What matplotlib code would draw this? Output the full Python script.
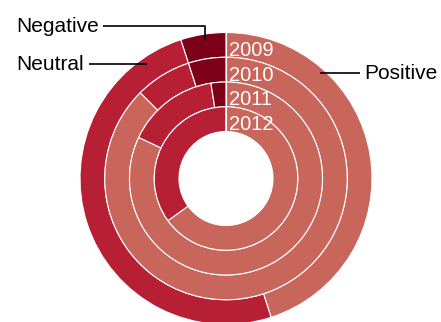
import matplotlib
matplotlib.use("Agg")
import matplotlib.pyplot as plt

# Share of sentiment per year (percent), ring order outer -> inner
years = ["2009", "2010", "2011", "2012"]
categories = ["Positive", "Neutral", "Negative"]
positive = [45.0, 87.5, 82.0, 65.0]
neutral = [50.0, 7.5, 15.5, 35.0]
negative = [5.0, 5.0, 2.5, 0.0]

colors = ["#c8665c", "#b72034", "#7d0019"]

W, H = 441, 322
fig = plt.figure(figsize=(W / 100, H / 100), dpi=100)
ax = fig.add_axes([0, 0, 1, 1])

cx, cy = 226.0, H - 178.5
outer_r = 146.0
ring_w = 24.75

for i, year in enumerate(years):
    r = outer_r - i * ring_w
    vals = [positive[i], neutral[i], negative[i]]
    ax.pie(vals, radius=r, center=(cx, cy), startangle=90, counterclock=False,
           colors=colors, normalize=True,
           wedgeprops=dict(width=ring_w, edgecolor="white", linewidth=0.8))
    # year label just inside the ring's inner edge, right of the top
    ax.text(cx + 3, cy + (r - ring_w) + 1.5, year, color="white",
            fontsize=14.5, family="Liberation Sans", ha="left", va="baseline")

# white divider at the top of all rings
ax.plot([cx, cx], [cy + outer_r - 4 * ring_w, cy + outer_r], color="white", lw=0.8)

ax.set_xlim(0, W)
ax.set_ylim(0, H)
ax.set_aspect("equal")
ax.axis("off")

lab = dict(fontsize=15, family="Liberation Sans", color="black", va="baseline")
lk = dict(color="black", lw=1.2, solid_capstyle="butt")

# Negative callout
ax.text(16, H - 31.7, "Negative", ha="left", **lab)
ax.plot([102.7, 205, 205], [H - 26.3, H - 26.3, H - 39.5], **lk)
# Neutral callout
ax.text(16, H - 70, "Neutral", ha="left", **lab)
ax.plot([89.3, 146.5], [H - 63.8, H - 63.8], **lk)
# Positive callout
ax.text(364, H - 79, "Positive", ha="left", **lab)
ax.plot([320, 359.5], [H - 73, H - 73], **lk)

fig.savefig("out.png", dpi=100)
